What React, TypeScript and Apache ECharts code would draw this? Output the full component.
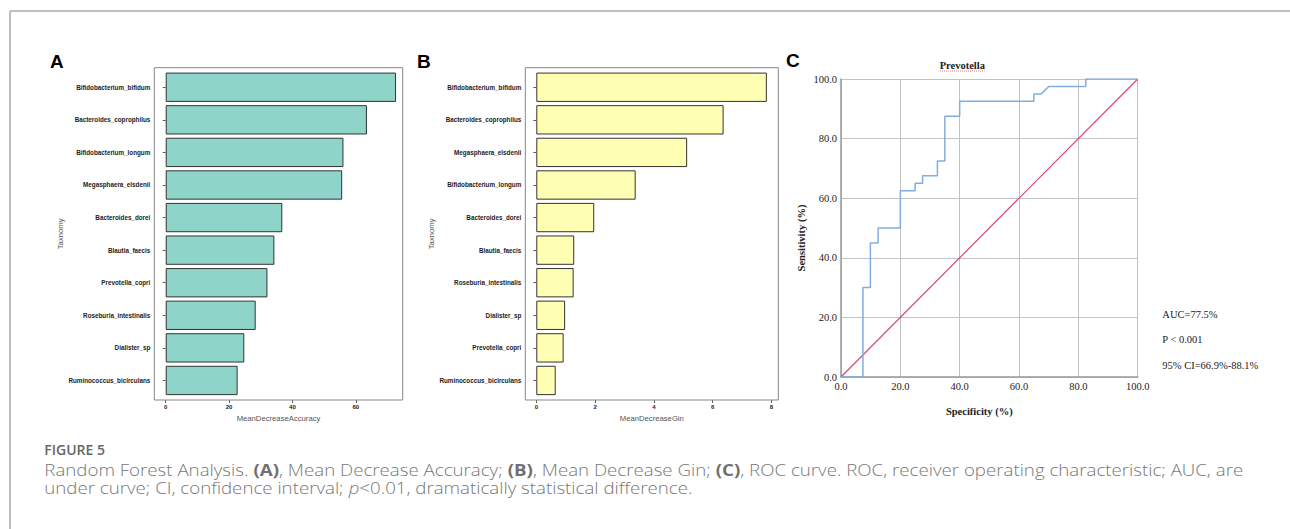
import React, { useEffect, useRef } from "react";
import * as echarts from "echarts";

// ---------- data ----------
const categoriesA = [
  "Bifidobacterium_bifidum",
  "Bacteroides_coprophilus",
  "Bifidobacterium_longum",
  "Megasphaera_elsdenii",
  "Bacteroides_dorei",
  "Blautia_faecis",
  "Prevotella_copri",
  "Roseburia_intestinalis",
  "Dialister_sp",
  "Ruminococcus_bicirculans",
];
const valuesA = [72.7, 63.5, 56.1, 55.7, 36.8, 34.3, 32.1, 28.4, 24.8, 22.7];
const ticksA = [0, 20, 40, 60];

const categoriesB = [
  "Bifidobacterium_bifidum",
  "Bacteroides_coprophilus",
  "Megasphaera_elsdenii",
  "Bifidobacterium_longum",
  "Bacteroides_dorei",
  "Blautia_faecis",
  "Roseburia_intestinalis",
  "Dialister_sp",
  "Prevotella_copri",
  "Ruminococcus_bicirculans",
];
const valuesB = [7.84, 6.37, 5.13, 3.38, 1.97, 1.29, 1.27, 0.98, 0.93, 0.66];
const ticksB = [0, 2, 4, 6, 8];

// ROC curve (x = 1 - specificity, y = sensitivity)
const rocX = [0, 7.4, 7.4, 9.9, 9.9, 12.5, 12.5, 20, 20, 25, 25, 27.5, 27.5, 32.5, 32.5, 35, 35, 40, 40, 65, 65, 67.5, 70, 82.5, 82.5, 100];
const rocY = [0, 0, 30, 30, 45, 45, 50, 50, 62.5, 62.5, 65, 65, 67.5, 67.5, 72.5, 72.5, 87.5, 87.5, 92.5, 92.5, 95, 95, 97.5, 97.5, 100, 100];
const refX = [0, 100];
const refY = [0, 100];

const statLines = ["AUC=77.5%", "P < 0.001", "95% CI=66.9%-88.1%"];

export default function App() {
  const ref = useRef<HTMLDivElement>(null);

  useEffect(() => {
    document.body.style.margin = "0";
    const chart = echarts.init(ref.current!, null, { renderer: "svg" });

    const sans = "Liberation Sans, Arial, sans-serif";
    const serif = "Liberation Serif, Times New Roman, serif";
    const capFont = "Open Sans, sans-serif";

    // panel boxes (pixels)
    const pA = { l: 154.3, t: 67.7, r: 402.7, b: 400 };
    const pB = { l: 525.3, t: 67.7, r: 778.3, b: 400 };
    const band = (pA.b - pA.t) / 10.2;
    const inset = band * 0.1;

    const barGrid = (p: any) => ({
      left: p.l,
      top: p.t + inset,
      width: p.r - p.l,
      height: band * 10,
    });

    const catAxis = (cats: string[], gridIndex: number, nameGap: number) => ({
      type: "category",
      gridIndex,
      data: cats,
      inverse: true,
      name: "Taxnomy",
      nameLocation: "middle",
      nameGap,
      nameRotate: 90,
      nameTextStyle: { fontFamily: sans, fontSize: 7.7, color: "#555" },
      axisLine: { show: false },
      axisTick: { show: true, alignWithLabel: true, length: 3, lineStyle: { color: "#333", width: 0.8 } },
      axisLabel: { fontFamily: sans, fontWeight: "bold", fontSize: 6.3, color: "#222", margin: 4 },
      splitLine: { show: false },
    });

    const valAxis = (gridIndex: number, min: number, max: number, ticks: number[], name: string) => ({
      type: "value",
      gridIndex,
      min,
      max,
      offset: inset,
      name,
      nameLocation: "middle",
      nameGap: 8,
      nameTextStyle: { fontFamily: sans, fontSize: 7.7, color: "#555" },
      axisLine: { show: false },
      axisTick: { show: true, length: 3, customValues: ticks, lineStyle: { color: "#333", width: 0.8 } },
      axisLabel: { customValues: ticks, fontFamily: sans, fontWeight: "bold", fontSize: 6, color: "#222", margin: 4 },
      splitLine: { show: false },
    });

    const cGrid = { left: 841, top: 79, width: 296.7, height: 298 };

    const rocAxis = (gridIndex: number) => ({
      type: "value",
      gridIndex,
      min: 0,
      max: 100,
      interval: 20,
      axisLine: { show: true, lineStyle: { color: "#999", width: 1.5 } },
      axisTick: { show: false },
      axisLabel: {
        fontFamily: serif,
        fontSize: 10.5,
        color: "#222",
        margin: 4,
        formatter: (v: number) => v.toFixed(1),
      },
      splitLine: { show: true, lineStyle: { color: "#c2c2c2", width: 1 } },
    });

    const option: any = {
      animation: false,
      backgroundColor: "#fff",
      grid: [barGrid(pA), barGrid(pB), cGrid],
      xAxis: [
        valAxis(0, -3.6, 74.8, ticksA, "MeanDecreaseAccuracy"),
        valAxis(1, -0.374, 8.23, ticksB, "MeanDecreaseGin"),
        rocAxis(2),
      ],
      yAxis: [catAxis(categoriesA, 0, 83), catAxis(categoriesB, 1, 89), rocAxis(2)],
      series: [
        {
          type: "bar",
          xAxisIndex: 0,
          yAxisIndex: 0,
          data: valuesA,
          barWidth: "90%",
          itemStyle: { color: "#8fd4c8", borderColor: "#333", borderWidth: 1 },
        },
        {
          type: "bar",
          xAxisIndex: 1,
          yAxisIndex: 1,
          data: valuesB,
          barWidth: "90%",
          itemStyle: { color: "#ffffb4", borderColor: "#333", borderWidth: 1 },
        },
        {
          type: "line",
          xAxisIndex: 2,
          yAxisIndex: 2,
          data: refX.map((x, i) => [x, refY[i]]),
          symbol: "none",
          lineStyle: { color: "#d9486e", width: 1.2 },
        },
        {
          type: "line",
          xAxisIndex: 2,
          yAxisIndex: 2,
          data: rocX.map((x, i) => [x, rocY[i]]),
          symbol: "none",
          lineStyle: { color: "#82addf", width: 1.5 },
        },
      ],
      graphic: [
        // figure frame
        { type: "line", shape: { x1: 10, y1: 11, x2: 1290, y2: 11 }, style: { stroke: "#aaa", lineWidth: 1.5 } },
        { type: "line", shape: { x1: 10, y1: 11, x2: 10, y2: 529 }, style: { stroke: "#aaa", lineWidth: 1.5 } },
        // panel borders
        {
          type: "rect",
          shape: { x: pA.l, y: pA.t, width: pA.r - pA.l, height: pA.b - pA.t },
          style: { fill: "none", stroke: "#888", lineWidth: 1 },
          z: 100,
        },
        {
          type: "rect",
          shape: { x: pB.l, y: pB.t, width: pB.r - pB.l, height: pB.b - pB.t },
          style: { fill: "none", stroke: "#888", lineWidth: 1 },
          z: 100,
        },
        // panel letters
        { type: "text", x: 50, y: 61.7, style: { text: "A", font: "bold 19px " + sans, fill: "#000", verticalAlign: "middle" } },
        { type: "text", x: 417, y: 61.7, style: { text: "B", font: "bold 19px " + sans, fill: "#000", verticalAlign: "middle" } },
        { type: "text", x: 786, y: 60.7, style: { text: "C", font: "bold 19px " + sans, fill: "#000", verticalAlign: "middle" } },
        // ROC title and axis titles
        {
          type: "text",
          x: 962.3,
          y: 65.7,
          style: { text: "Prevotella", font: "bold 10.5px " + serif, fill: "#222", align: "center", verticalAlign: "middle" },
        },
        {
          type: "line",
          shape: { x1: 940, y1: 71, x2: 984.7, y2: 71 },
          style: { stroke: "#e0605f", lineWidth: 0.8, lineDash: [1, 1] },
        },
        {
          type: "text",
          x: 979.3,
          y: 411,
          style: { text: "Specificity (%)", font: "bold 10.5px " + serif, fill: "#222", align: "center", verticalAlign: "middle" },
        },
        {
          type: "text",
          x: 801.7,
          y: 238,
          rotation: Math.PI / 2,
          style: { text: "Sensitivity (%)", font: "bold 10.5px " + serif, fill: "#222", align: "center", verticalAlign: "middle" },
        },
        // statistics
        ...statLines.map((t, i) => ({
          type: "text",
          x: 1162.3,
          y: [314.3, 339.3, 365][i],
          style: { text: t, font: "10.5px " + serif, fill: "#222", verticalAlign: "middle" },
        })),
        // caption
        {
          type: "text",
          x: 44.3,
          y: 449.3,
          style: { text: "FIGURE 5", font: "600 14px " + capFont, fill: "#666", verticalAlign: "middle" },
        },
        {
          type: "text",
          x: 44.3,
          y: 470,
          scaleX: 1.206,
          style: {
            text:
              "Random Forest Analysis. {b|(A)}, Mean Decrease Accuracy; {b|(B)}, Mean Decrease Gin; {b|(C)}, ROC curve. ROC, receiver operating characteristic; AUC, are",
            font: "300 15.5px " + capFont,
            fill: "#777",
            verticalAlign: "middle",
            rich: { b: { fontWeight: "bold", fontFamily: capFont, fontSize: 15.5, fill: "#707070" } },
          },
        },
        {
          type: "text",
          x: 44.3,
          y: 488.3,
          scaleX: 1.206,
          style: {
            text: "under curve; CI, confidence interval; {i|p}<0.01, dramatically statistical difference.",
            font: "300 15.5px " + capFont,
            fill: "#777",
            verticalAlign: "middle",
            rich: { i: { fontStyle: "italic", fontWeight: 300, fontFamily: capFont, fontSize: 15.5, fill: "#777" } },
          },
        },
      ],
    };

    chart.setOption(option);
    return () => chart.dispose();
  }, []);

  return <div ref={ref} style={{ width: 1290, height: 529 }} />;
}
